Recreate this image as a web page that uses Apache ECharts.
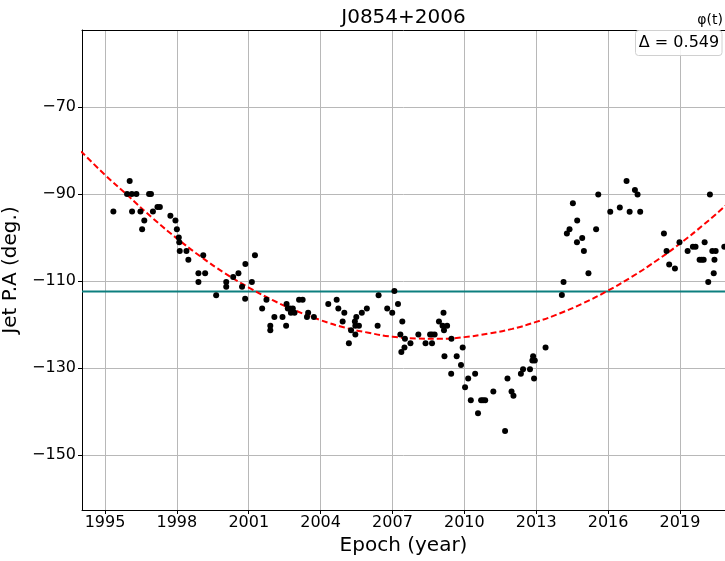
<!DOCTYPE html>
<html><head><meta charset="utf-8">
<script src="https://cdn.jsdelivr.net/npm/echarts@6/dist/echarts.min.js"></script>
<style>html,body{margin:0;padding:0;background:#fff}#c{width:725px;height:561px}</style>
</head><body><div id="c"></div><script>
const epochs = [
1995.35,1995.92,1996.03,1996.12,1996.13,1996.31,1996.48,1996.55,1996.64,1996.84,
1996.92,1997.00,1997.19,1997.29,1997.73,1997.94,1998.00,1998.08,1998.10,1998.12,
1998.40,1998.48,1998.90,1998.90,1999.10,1999.18,1999.64,2000.06,2000.06,2000.35,
2000.57,2000.72,2000.85,2000.86,2001.13,2001.26,2001.56,2001.74,2001.90,2001.90,
2002.07,2002.41,2002.56,2002.58,2002.63,2002.72,2002.84,2002.76,2002.91,2003.10,
2003.25,2003.43,2003.48,2003.72,2004.32,2004.67,2004.74,2004.92,2004.99,2005.18,
2005.27,2005.43,2005.45,2005.45,2005.49,2005.60,2005.72,2005.93,2006.38,2006.42,
2006.78,2006.99,2007.08,2007.23,2007.33,2007.37,2007.41,2007.50,2007.52,2007.75,
2008.08,2008.38,2008.57,2008.65,2008.76,2008.65,2008.94,2009.09,2009.13,2009.15,
2009.17,2009.28,2009.45,2009.46,2009.68,2009.86,2009.93,2010.03,2010.16,2010.27,
2010.45,2010.57,2010.70,2010.78,2010.87,2011.21,2011.70,2011.80,2011.97,2012.05,
2012.36,2012.45,2012.74,2012.84,2012.87,2012.91,2012.94,2013.39,2014.07,2014.14,
2014.28,2014.39,2014.53,2014.70,2014.71,2014.92,2014.99,2015.18,2015.50,2015.59,
2016.09,2016.49,2016.77,2016.90,2017.12,2017.23,2017.34,2018.33,2018.44,2018.55,
2018.79,2018.98,2019.32,2019.54,2019.65,2019.82,2019.91,2019.99,2020.03,2020.18,
2020.25,2020.35,2020.41,2020.44,2020.49,2020.85
];
const angles = [
-94,-90,-87,-90,-94,-90,-94,-98.1,-96.1,-90,
-90,-94,-93,-93,-95,-96.1,-98.1,-100,-101.1,-103.1,
-103.1,-105.1,-108.2,-110.2,-104.1,-108.2,-113.3,-110.2,-111.3,-109.1,
-108.2,-111.3,-114.1,-106.1,-110.2,-104.1,-116.3,-114.3,-120.3,-121.3,
-118.3,-118.3,-120.3,-115.3,-116.3,-116.3,-116.3,-117.3,-117.3,-114.3,
-114.3,-118.3,-117.3,-118.3,-115.3,-114.3,-116.3,-119.3,-117.3,-124.3,
-121.3,-119.3,-120.3,-122.3,-118.3,-120.3,-117.3,-116.3,-120.3,-113.3,
-116.3,-117.3,-112.3,-115.3,-122.3,-126.3,-119.3,-125.3,-123.3,-124.3,
-122.3,-124.3,-122.3,-122.3,-122.3,-124.3,-119.3,-120.3,-117.3,-121.3,
-127.3,-120.3,-131.3,-123.3,-127.3,-129.3,-125.3,-134.4,-132.4,-137.4,
-131.3,-140.4,-137.4,-137.4,-137.4,-135.4,-144.5,-132.4,-135.4,-136.4,
-131.3,-130.3,-130.3,-128.3,-127.3,-132.4,-128.3,-125.3,-113.2,-110.2,
-99.1,-98.1,-92.1,-101.1,-96.1,-100.1,-103.1,-108.2,-98.1,-90.1,
-94.1,-93.1,-87,-94.1,-89.1,-90.1,-94.1,-99.1,-103.1,-106.2,
-107.1,-101.1,-103.1,-102.1,-102.1,-105.1,-105.1,-105.1,-101.1,-110.2,
-90.1,-103.1,-108.2,-105.1,-103.1,-102.1
];
const fitYears = [1994,1995,1996,1997,1998,1999,2000,2001,2002,2003,2004,2005,2006,2007,2008,2009,2010,2011,2012,2013,2014,2015,2016,2017,2018,2019,2020,2021];
const fitAngles = [-80.2,-85.6,-90.6,-95.6,-100.2,-104.4,-108.2,-111.5,-114.4,-116.9,-119.0,-120.7,-121.9,-122.8,-123.2,-123.3,-122.9,-122.1,-121.0,-119.4,-117.4,-115.0,-112.2,-109.0,-105.4,-101.4,-97.0,-92.2];
const meanAngle = -112.4;
const xTicks = [1995,1998,2001,2004,2007,2010,2013,2016,2019];
const yTicks = [-150,-130,-110,-90,-70];
const titleText = 'J0854+2006';
const legendText = 'Δ = 0.549';
const cornerText = 'φ(t)';

const FONT = 'DejaVu Sans';
const X_MIN = 1994.04, X_MAX = 2020.88, Y_MIN = -162.64, Y_MAX = -52.3;
const points = epochs.map((e, i) => [e, angles[i]]);
const fit = fitYears.map((y, i) => [y, fitAngles[i]]);

const chart = echarts.init(document.getElementById('c'), null, {renderer: 'canvas'});
chart.setOption({
  animation: false,
  backgroundColor: '#fff',
  grid: {left: 82, top: 30, width: 643, height: 480, containLabel: false, outerBoundsMode: 'none'},
  xAxis: [{
    type: 'value', min: X_MIN, max: X_MAX, position: 'bottom',
    name: 'Epoch (year)', nameLocation: 'middle', nameGap: 22,
    nameTextStyle: {fontFamily: FONT, fontSize: 20, color: '#000'},
    axisLine: {show: true, onZero: false, lineStyle: {color: '#000', width: 1}},
    axisTick: {show: true, inside: false, length: 4, customValues: xTicks, lineStyle: {color: '#000'}},
    axisLabel: {customValues: xTicks, fontFamily: FONT, fontSize: 16, color: '#000', margin: 5,
      formatter: v => String(Math.round(v))},
    splitLine: {show: true, lineStyle: {color: '#b8b8b8', width: 1}}
  }, {
    type: 'value', min: X_MIN, max: X_MAX, position: 'top',
    axisLine: {show: true, onZero: false, lineStyle: {color: '#000', width: 1}},
    axisTick: {show: false}, axisLabel: {show: false}, splitLine: {show: false}
  }],
  yAxis: [{
    type: 'value', min: Y_MIN, max: Y_MAX,
    name: 'Jet P.A (deg.)', nameLocation: 'middle', nameGap: 53,
    nameTextStyle: {fontFamily: FONT, fontSize: 20, color: '#000'},
    axisLine: {show: true, onZero: false, lineStyle: {color: '#000', width: 1}},
    axisTick: {show: true, inside: false, length: 4, customValues: yTicks, lineStyle: {color: '#000'}},
    axisLabel: {customValues: yTicks, fontFamily: FONT, fontSize: 16, color: '#000', margin: 6,
      formatter: v => String(Math.round(v)).replace('-', '\u2212')},
    splitLine: {show: true, lineStyle: {color: '#b8b8b8', width: 1}}
  }],
  series: [{
    type: 'line', data: fit, smooth: true, showSymbol: false, symbol: 'none',
    lineStyle: {color: '#ff0000', width: 2, type: [6, 3]}, clip: true, z: 3
  }, {
    type: 'line', data: [[X_MIN, meanAngle], [X_MAX, meanAngle]], showSymbol: false, symbol: 'none',
    lineStyle: {color: '#0c7f7f', width: 2}, z: 2
  }, {
    type: 'scatter', data: points, symbol: 'circle', symbolSize: 6,
    itemStyle: {color: '#000', opacity: 1}, z: 4
  }],
  graphic: [
    {type: 'text', style: {text: titleText, fontFamily: FONT, fontSize: 20, fill: '#000', x: 403.5, y: 18, align: 'center', verticalAlign: 'middle'}},
    {type: 'text', style: {text: cornerText, fontFamily: FONT, fontSize: 14, fill: '#000', x: 723, y: 20, align: 'right', verticalAlign: 'middle'}},
    {type: 'rect', shape: {x: 635.5, y: 30.5, width: 86.5, height: 25, r: 3}, style: {fill: 'rgba(255,255,255,0.85)', stroke: '#d0d0d0', lineWidth: 1}, z: 10},
    {type: 'text', style: {text: legendText, fontFamily: FONT, fontSize: 16, fill: '#000', x: 679, y: 43, align: 'center', verticalAlign: 'middle'}, z: 11}
  ]
});
</script></body></html>
